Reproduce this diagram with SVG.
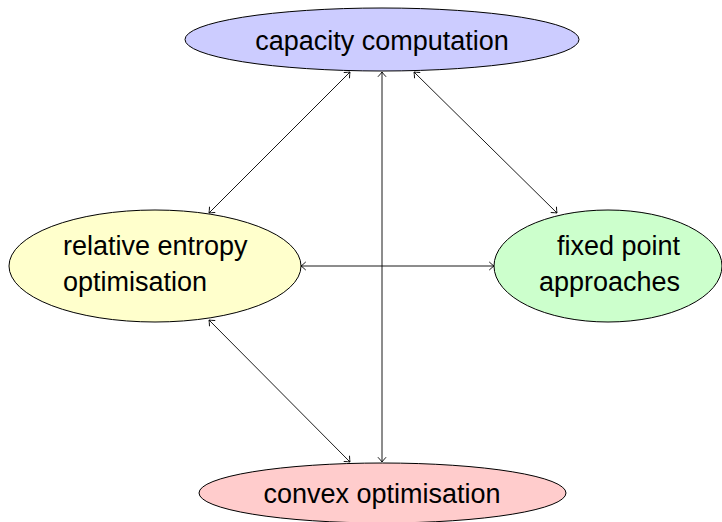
<svg xmlns="http://www.w3.org/2000/svg" width="722" height="522" viewBox="0 0 722 522">
<style>
.node{stroke:#000;stroke-width:1}
.lbl{font-family:"Liberation Sans",Arial,sans-serif;font-size:27px;fill:#000}
.edge{stroke:#000;stroke-width:0.9;fill:none;marker-start:url(#tip);marker-end:url(#tip)}
</style>
<defs>
<marker id="tip" viewBox="-6 -5 8 10" markerWidth="8" markerHeight="10" refX="0" refY="0" orient="auto-start-reverse" markerUnits="userSpaceOnUse">
<path d="M-4.5,-3.8 Q-1.5,-1 0,0 Q-1.5,1 -4.5,3.8" fill="none" stroke="#000" stroke-width="0.9" stroke-linecap="round"/>
</marker>
</defs>
<rect width="722" height="522" fill="#fff"/>
<g id="capacity">
<ellipse class="node" cx="382" cy="39.5" rx="197" ry="31.5" fill="#ccccff"/>
<text class="lbl" x="382" y="49.5" text-anchor="middle">capacity computation</text>
</g>
<g id="relative">
<ellipse class="node" cx="155" cy="266" rx="146" ry="56" fill="#ffffcc"/>
<text class="lbl" x="63" y="255">relative entropy</text>
<text class="lbl" x="63" y="291">optimisation</text>
</g>
<g id="fixed">
<ellipse class="node" cx="608" cy="266" rx="114" ry="56" fill="#ccffcc"/>
<text class="lbl" x="680" y="255" text-anchor="end">fixed point</text>
<text class="lbl" x="680" y="291" text-anchor="end">approaches</text>
</g>
<g id="convex">
<ellipse class="node" cx="382.5" cy="493" rx="183.5" ry="30" fill="#ffcccc"/>
<text class="lbl" x="382" y="502.5" text-anchor="middle">convex optimisation</text>
</g>
<g id="connectors">
<line class="edge" x1="350" y1="72" x2="209" y2="213"/>
<line class="edge" x1="414" y1="72" x2="557" y2="213"/>
<line class="edge" x1="382" y1="72" x2="382" y2="462"/>
<line class="edge" x1="301" y1="266" x2="494" y2="266"/>
<line class="edge" x1="209" y1="320" x2="350" y2="462"/>
</g>
</svg>
